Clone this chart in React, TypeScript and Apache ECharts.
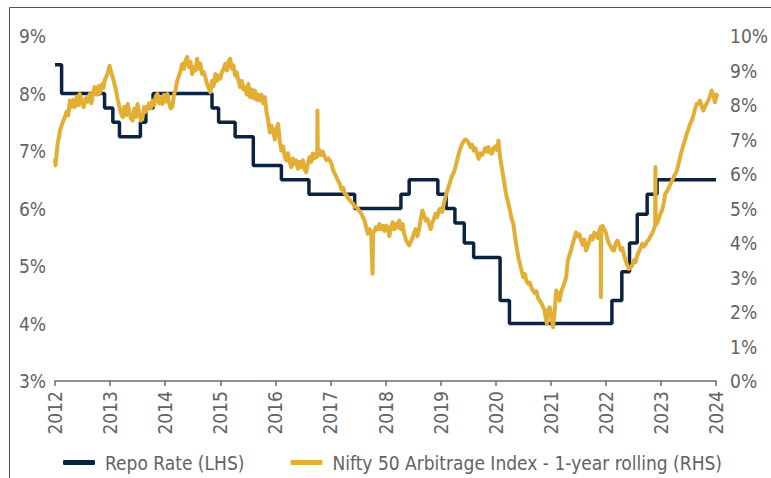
import React, { useEffect, useRef } from "react";
import * as echarts from "echarts";

const FONT = "'DejaVu Sans Condensed', 'Liberation Sans Narrow', sans-serif";

const yearTicks = [2012, 2013, 2014, 2015, 2016, 2017, 2018, 2019, 2020, 2021, 2022, 2023, 2024];
const seriesNames = ["Repo Rate (LHS)", "Nifty 50 Arbitrage Index - 1-year rolling (RHS)"];

// Repo rate steps: [year, rate %] (value holds until next point)
const repoPoints: [number, number][] = [
  [2012.0, 8.5], [2012.12, 8.0], [2012.9, 7.75], [2013.05, 7.5], [2013.17, 7.25],
  [2013.55, 7.5], [2013.65, 7.75], [2013.78, 8.0], [2014.85, 7.75], [2014.97, 7.5],
  [2015.27, 7.25], [2015.6, 6.75], [2016.11, 6.5], [2016.61, 6.25], [2017.44, 6.0],
  [2018.28, 6.25], [2018.43, 6.5], [2018.95, 6.25], [2019.1, 6.0], [2019.26, 5.75],
  [2019.43, 5.4], [2019.6, 5.15], [2020.08, 4.4], [2020.25, 4.0], [2022.11, 4.4],
  [2022.29, 4.9], [2022.43, 5.4], [2022.57, 5.9], [2022.75, 6.25], [2022.93, 6.5],
  [2024.0, 6.5],
];

// Nifty 50 Arbitrage Index 1-year rolling return: [year, %]
const niftyPoints: [number, number][] = [
  [2012.0, 6.45], [2012.01, 6.25], [2012.03, 6.6], [2012.05, 6.9], [2012.07, 7.05], [2012.09, 7.26],
  [2012.12, 7.4], [2012.15, 7.55], [2012.18, 7.65], [2012.21, 7.8], [2012.24, 7.7], [2012.27, 8.13],
  [2012.3, 7.95], [2012.33, 8.15], [2012.36, 7.94], [2012.4, 8.25], [2012.43, 8.0], [2012.45, 8.32],
  [2012.49, 8.1], [2012.52, 7.94], [2012.56, 8.2], [2012.6, 8.1], [2012.63, 8.32], [2012.66, 8.05],
  [2012.7, 8.4], [2012.72, 8.52], [2012.76, 8.3], [2012.79, 8.55], [2012.81, 8.32], [2012.85, 8.6],
  [2012.88, 8.5], [2012.9, 8.71], [2012.94, 8.85], [2012.97, 9.0], [2012.99, 9.14], [2013.02, 8.95],
  [2013.05, 8.8], [2013.08, 8.61], [2013.11, 8.4], [2013.14, 8.15], [2013.17, 7.94], [2013.2, 7.75],
  [2013.23, 7.65], [2013.26, 7.95], [2013.29, 7.7], [2013.32, 8.03], [2013.35, 7.8], [2013.38, 7.6],
  [2013.41, 7.55], [2013.44, 7.9], [2013.47, 7.65], [2013.5, 8.03], [2013.53, 7.75], [2013.56, 7.55],
  [2013.59, 7.65], [2013.62, 7.95], [2013.65, 7.8], [2013.68, 7.94], [2013.71, 8.05], [2013.74, 7.9],
  [2013.77, 8.13], [2013.8, 8.0], [2013.83, 8.25], [2013.86, 8.32], [2013.89, 8.05], [2013.92, 8.2],
  [2013.95, 8.03], [2013.98, 8.3], [2014.01, 8.1], [2014.04, 8.32], [2014.07, 8.05], [2014.1, 7.9],
  [2014.13, 7.94], [2014.16, 8.3], [2014.19, 8.45], [2014.22, 8.71], [2014.25, 8.85], [2014.28, 9.0],
  [2014.31, 9.19], [2014.34, 9.05], [2014.37, 9.3], [2014.4, 9.39], [2014.43, 9.1], [2014.46, 9.25],
  [2014.49, 8.9], [2014.52, 9.1], [2014.55, 9.0], [2014.58, 9.34], [2014.61, 9.05], [2014.64, 9.2],
  [2014.67, 8.9], [2014.7, 8.95], [2014.73, 8.8], [2014.76, 8.61], [2014.79, 8.5], [2014.82, 8.37],
  [2014.85, 8.7], [2014.88, 8.55], [2014.91, 8.9], [2014.94, 8.7], [2014.97, 8.85], [2015.0, 8.76],
  [2015.03, 8.95], [2015.06, 9.05], [2015.09, 9.19], [2015.12, 9.0], [2015.15, 9.25], [2015.18, 9.34],
  [2015.21, 9.05], [2015.24, 9.15], [2015.27, 8.85], [2015.3, 8.95], [2015.33, 8.7], [2015.36, 8.52],
  [2015.39, 8.7], [2015.42, 8.45], [2015.45, 8.52], [2015.48, 8.3], [2015.51, 8.61], [2015.54, 8.23],
  [2015.57, 8.45], [2015.6, 8.2], [2015.63, 8.42], [2015.66, 8.15], [2015.69, 8.3], [2015.72, 8.13],
  [2015.75, 8.3], [2015.78, 8.05], [2015.81, 8.23], [2015.84, 7.8], [2015.87, 7.55], [2015.9, 7.2],
  [2015.93, 7.4], [2015.96, 7.26], [2015.99, 7.0], [2016.02, 7.3], [2016.05, 7.45], [2016.08, 6.95],
  [2016.11, 6.68], [2016.14, 6.8], [2016.17, 6.5], [2016.2, 6.39], [2016.23, 6.6], [2016.26, 6.35],
  [2016.29, 6.2], [2016.32, 6.45], [2016.35, 6.3], [2016.38, 6.39], [2016.41, 6.15], [2016.44, 6.35],
  [2016.47, 6.2], [2016.5, 6.4], [2016.53, 6.15], [2016.56, 6.05], [2016.59, 6.3], [2016.62, 6.49],
  [2016.65, 6.35], [2016.68, 6.59], [2016.71, 6.45], [2016.74, 6.59], [2016.76, 6.5], [2016.765, 7.84],
  [2016.77, 6.55], [2016.8, 6.7], [2016.83, 6.55], [2016.86, 6.65], [2016.9, 6.49], [2016.93, 6.4],
  [2016.96, 6.45], [2016.99, 6.39], [2017.02, 6.3], [2017.05, 6.1], [2017.08, 6.01], [2017.11, 5.9],
  [2017.14, 5.8], [2017.17, 5.72], [2017.2, 5.55], [2017.23, 5.6], [2017.26, 5.43], [2017.29, 5.4],
  [2017.32, 5.3], [2017.35, 5.25], [2017.38, 5.18], [2017.41, 5.15], [2017.44, 5.05], [2017.47, 5.04],
  [2017.5, 4.99], [2017.53, 4.92], [2017.56, 4.85], [2017.59, 4.75], [2017.62, 4.65], [2017.65, 4.45],
  [2017.68, 4.27], [2017.71, 4.4], [2017.74, 4.3], [2017.765, 3.11], [2017.775, 4.3], [2017.8, 4.35],
  [2017.83, 4.46], [2017.86, 4.4], [2017.89, 4.55], [2017.92, 4.4], [2017.95, 4.5], [2017.98, 4.35],
  [2018.01, 4.5], [2018.04, 4.45], [2018.07, 4.2], [2018.1, 4.45], [2018.13, 4.6], [2018.16, 4.4],
  [2018.19, 4.55], [2018.22, 4.45], [2018.25, 4.65], [2018.28, 4.4], [2018.31, 4.55], [2018.34, 4.27],
  [2018.37, 4.1], [2018.4, 4.0], [2018.43, 3.93], [2018.46, 4.05], [2018.49, 4.15], [2018.52, 4.3],
  [2018.55, 4.4], [2018.58, 4.2], [2018.61, 4.4], [2018.64, 4.7], [2018.67, 4.94], [2018.7, 4.8],
  [2018.73, 4.65], [2018.76, 4.7], [2018.79, 4.55], [2018.82, 4.4], [2018.85, 4.6], [2018.88, 4.7],
  [2018.91, 4.85], [2018.94, 4.75], [2018.97, 4.95], [2019.0, 5.0], [2019.03, 4.9], [2019.06, 5.14],
  [2019.09, 5.35], [2019.12, 5.5], [2019.15, 5.65], [2019.18, 5.81], [2019.21, 5.95], [2019.24, 6.05],
  [2019.27, 6.2], [2019.3, 6.4], [2019.33, 6.59], [2019.36, 6.75], [2019.39, 6.87], [2019.42, 6.95],
  [2019.45, 7.0], [2019.48, 6.97], [2019.51, 6.9], [2019.54, 6.78], [2019.57, 6.85], [2019.6, 6.68],
  [2019.63, 6.75], [2019.66, 6.6], [2019.69, 6.44], [2019.72, 6.6], [2019.75, 6.55], [2019.78, 6.63],
  [2019.81, 6.75], [2019.84, 6.65], [2019.87, 6.78], [2019.9, 6.62], [2019.93, 6.59], [2019.96, 6.75],
  [2019.99, 6.8], [2020.02, 6.7], [2020.05, 6.97], [2020.08, 6.49], [2020.11, 6.2], [2020.14, 5.91],
  [2020.17, 5.6], [2020.2, 5.33], [2020.23, 5.15], [2020.26, 4.94], [2020.29, 4.7], [2020.32, 4.56],
  [2020.35, 4.2], [2020.38, 3.88], [2020.41, 3.6], [2020.44, 3.4], [2020.47, 3.2], [2020.5, 3.01],
  [2020.53, 3.1], [2020.56, 2.9], [2020.59, 2.82], [2020.62, 2.85], [2020.65, 2.7], [2020.68, 2.62],
  [2020.71, 2.55], [2020.74, 2.6], [2020.77, 2.4], [2020.8, 2.33], [2020.83, 2.25], [2020.86, 2.15],
  [2020.89, 2.04], [2020.91, 1.8], [2020.93, 1.66], [2020.95, 2.05], [2020.98, 2.14], [2021.01, 1.9],
  [2021.04, 1.56], [2021.07, 2.0], [2021.1, 2.62], [2021.13, 2.5], [2021.16, 2.33], [2021.19, 2.6],
  [2021.22, 2.72], [2021.25, 2.85], [2021.28, 3.01], [2021.31, 3.49], [2021.34, 3.65], [2021.37, 3.8],
  [2021.4, 3.98], [2021.43, 4.15], [2021.46, 4.31], [2021.49, 4.2], [2021.52, 4.25], [2021.55, 4.07],
  [2021.58, 3.95], [2021.61, 4.1], [2021.64, 3.78], [2021.67, 3.9], [2021.7, 4.05], [2021.73, 4.2],
  [2021.76, 4.1], [2021.79, 4.3], [2021.82, 4.27], [2021.85, 4.15], [2021.88, 4.35], [2021.905, 4.46],
  [2021.91, 2.43], [2021.915, 4.4], [2021.94, 4.5], [2021.97, 4.4], [2022.0, 4.3], [2022.03, 4.1],
  [2022.06, 3.98], [2022.09, 3.9], [2022.12, 3.8], [2022.15, 3.78], [2022.18, 4.0], [2022.21, 4.07],
  [2022.24, 3.95], [2022.27, 3.8], [2022.3, 3.85], [2022.33, 3.65], [2022.36, 3.49], [2022.39, 3.35],
  [2022.42, 3.25], [2022.45, 3.3], [2022.48, 3.35], [2022.51, 3.5], [2022.54, 3.45], [2022.57, 3.64],
  [2022.6, 3.75], [2022.63, 3.85], [2022.66, 3.98], [2022.69, 3.9], [2022.72, 3.95], [2022.75, 4.05],
  [2022.78, 4.1], [2022.81, 4.2], [2022.84, 4.27], [2022.87, 4.4], [2022.895, 4.5], [2022.9, 6.2],
  [2022.905, 4.55], [2022.93, 4.56], [2022.96, 4.7], [2022.99, 4.85], [2023.02, 4.94], [2023.05, 5.15],
  [2023.08, 5.43], [2023.11, 5.5], [2023.14, 5.6], [2023.17, 5.7], [2023.2, 5.81], [2023.23, 5.9],
  [2023.26, 6.0], [2023.29, 6.1], [2023.32, 6.3], [2023.35, 6.5], [2023.38, 6.68], [2023.41, 6.85],
  [2023.44, 7.0], [2023.47, 7.17], [2023.5, 7.3], [2023.53, 7.45], [2023.56, 7.55], [2023.59, 7.7],
  [2023.62, 7.9], [2023.65, 8.03], [2023.68, 8.05], [2023.71, 8.13], [2023.74, 7.95], [2023.77, 7.84],
  [2023.8, 7.95], [2023.83, 8.05], [2023.86, 8.13], [2023.89, 8.25], [2023.92, 8.42], [2023.95, 8.3],
  [2023.98, 8.08], [2024.01, 8.3], [2024.03, 8.23],
];

const NAVY = "#0b2341";
const GOLD = "#e3ae34";
const TEXT = "#636363";

export default function App() {
  const ref = useRef<HTMLDivElement>(null);
  useEffect(() => {
    if (!ref.current) return;
    const chart = echarts.init(ref.current, null, { renderer: "svg" });
    chart.setOption({
      animation: false,
      backgroundColor: "#ffffff",
      textStyle: { fontFamily: FONT },
      grid: { left: 55, right: 50, top: 36, bottom: 97, containLabel: false },
      graphic: [
        { type: "line", shape: { x1: 9.5, y1: 7.5, x2: 771, y2: 7.5 }, style: { stroke: "#44546a", lineWidth: 1 } },
        { type: "line", shape: { x1: 9.5, y1: 7.5, x2: 9.5, y2: 478 }, style: { stroke: "#44546a", lineWidth: 1 } },
      ],
      legend: {
        top: 448,
        left: 58,
        itemWidth: 32,
        itemHeight: 5,
        itemGap: 46,
        icon: "roundRect",
        textStyle: { fontFamily: FONT, fontSize: 19, color: TEXT, padding: [0, 0, 0, 5] },
        data: seriesNames,
      },
      xAxis: {
        type: "value",
        min: yearTicks[0],
        max: yearTicks[yearTicks.length - 1],
        interval: 1,
        splitLine: { show: false },
        axisLine: { show: true, lineStyle: { color: "#6b6b6b", width: 1.5 } },
        axisTick: { show: true, length: 5, lineStyle: { color: "#6b6b6b", width: 1.5 } },
        axisLabel: {
          rotate: 90,
          margin: 10,
          fontFamily: FONT,
          fontSize: 19,
          color: TEXT,
          formatter: (v: number) => String(v),
        },
      },
      yAxis: [
        {
          type: "value",
          min: 3,
          max: 9,
          interval: 1,
          position: "left",
          splitLine: { show: false },
          axisLine: { show: false },
          axisTick: { show: false },
          axisLabel: { margin: 9, fontFamily: FONT, fontSize: 19, color: TEXT, formatter: "{value}%" },
        },
        {
          type: "value",
          min: 0,
          max: 10,
          interval: 1,
          position: "right",
          splitLine: { show: false },
          axisLine: { show: false },
          axisTick: { show: false },
          axisLabel: { margin: 14, fontFamily: FONT, fontSize: 19, color: TEXT, formatter: "{value}%" },
        },
      ],
      series: [
        {
          name: seriesNames[0],
          type: "line",
          yAxisIndex: 0,
          step: "end",
          showSymbol: false,
          symbol: "none",
          data: repoPoints,
          color: NAVY,
          lineStyle: { color: NAVY, width: 3.5 },
          z: 2,
        },
        {
          name: seriesNames[1],
          type: "line",
          yAxisIndex: 1,
          showSymbol: false,
          symbol: "none",
          data: niftyPoints,
          color: GOLD,
          lineStyle: { color: GOLD, width: 4, join: "round" },
          z: 3,
        },
      ],
    });
    return () => chart.dispose();
  }, []);
  return (
    <div
      ref={ref}
      style={{ position: "absolute", left: 0, top: 0, width: 771, height: 478 }}
    />
  );
}
